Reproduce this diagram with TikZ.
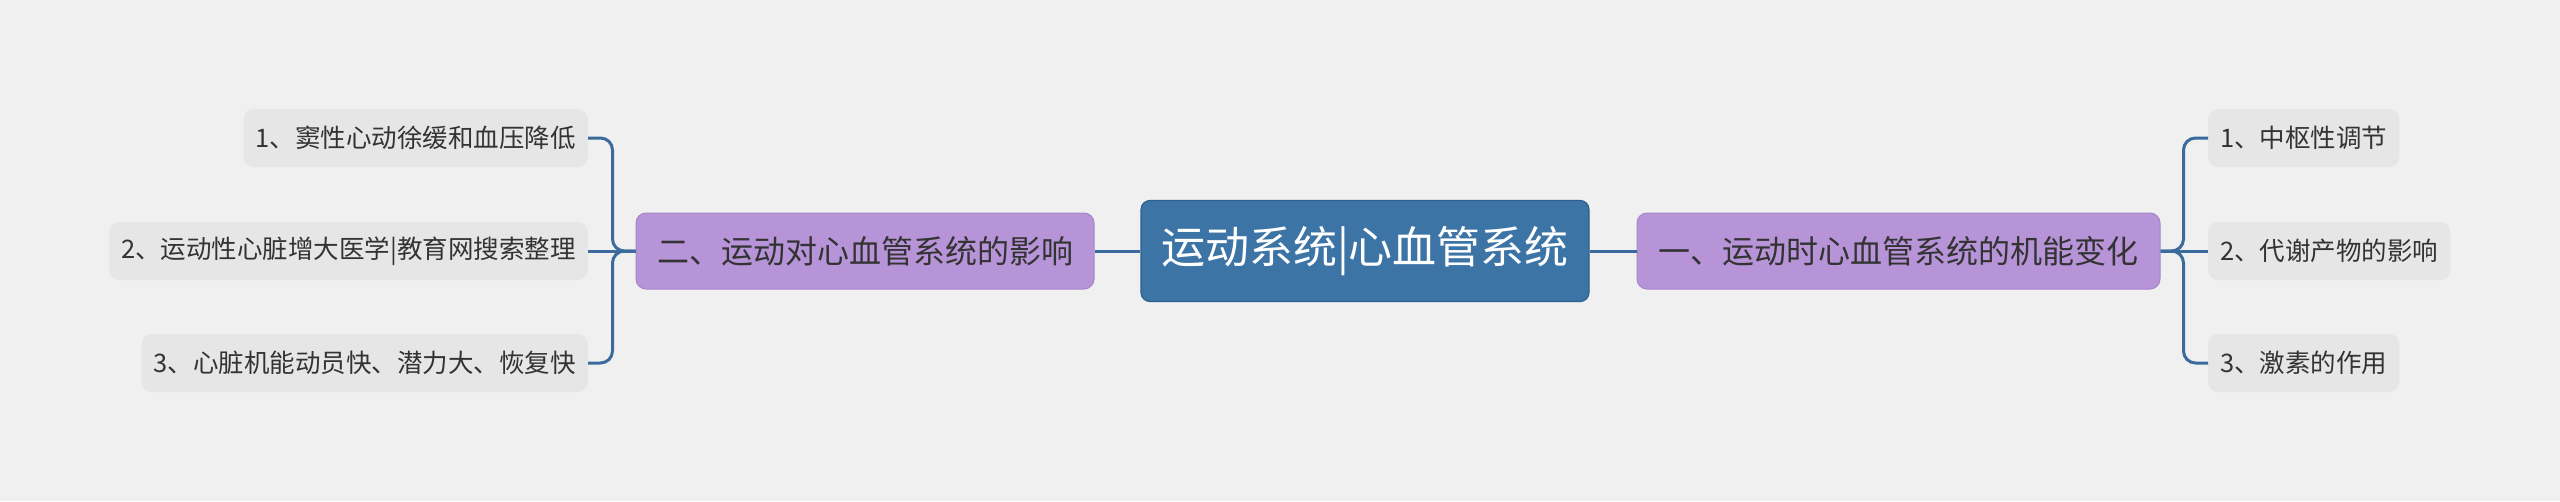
\documentclass[tikz,border=0pt]{standalone}
\usepackage{fontspec}
\setmainfont{Noto Sans CJK SC}
\definecolor{bgc}{HTML}{F0F0F0}
\definecolor{rootc}{HTML}{3D74A6}
\definecolor{rootb}{HTML}{2C5F8E}
\definecolor{mainc}{HTML}{B794D8}
\definecolor{mainb}{HTML}{A784CB}
\definecolor{leafc}{HTML}{E6E6E6}
\definecolor{txtc}{HTML}{333333}
\definecolor{linec}{HTML}{3A6B9C}
\tikzset{
  rootbox/.style={draw=rootb, line width=1.2pt, fill=rootc, rounded corners=9pt, text=white,
    minimum width=448pt, minimum height=101pt, inner sep=0pt, font=\fontsize{44}{52}\selectfont},
  mainbox/.style={draw=mainb, line width=1pt, fill=mainc, rounded corners=10pt, text=txtc,
    minimum height=76pt, inner sep=0pt, font=\fontsize{32}{38}\selectfont},
  leafbox/.style={fill=leafc, rounded corners=10pt, text=txtc,
    minimum height=58pt, inner xsep=12pt, inner ysep=0pt, font=\fontsize{25.5}{30}\selectfont},
  conn/.style={draw=linec, line width=3pt, rounded corners=12pt}
}
\begin{document}
\begin{tikzpicture}[x=1pt,y=-1pt]
\fill[bgc] (0,0) rectangle (2560,501);
\useasboundingbox (0,0) rectangle (2560,501);

\node[rootbox] (root) at (1365,251) {运动系统|心血管系统};
\node[mainbox, minimum width=458pt] (lmain) at (865,251) {二、运动对心血管系统的影响};
\node[mainbox, minimum width=523pt] (rmain) at (1898.5,251) {一、运动时心血管系统的机能变化};

\node[leafbox, anchor=east] (l1) at (588,138) {1、窦性心动徐缓和血压降低};
\node[leafbox, anchor=east] (l2) at (588,251) {2、运动性心脏增大医学|教育网搜索整理};
\node[leafbox, anchor=east] (l3) at (588,363) {3、心脏机能动员快、潜力大、恢复快};

\node[leafbox, anchor=west] (r1) at (2208,138) {1、中枢性调节};
\node[leafbox, anchor=west] (r2) at (2208,251) {2、代谢产物的影响};
\node[leafbox, anchor=west] (r3) at (2208,363) {3、激素的作用};

\coordinate (lj) at (612.5,251);
\coordinate (rj) at (2183.5,251);

\draw[conn] (root.west) -- (lmain.east);
\draw[conn] (root.east) -- (rmain.west);

\draw[conn] (lmain.west) -- (lj) |- (l1.east);
\draw[conn] (lmain.west) -- (l2.east);
\draw[conn] (lmain.west) -- (lj) |- (l3.east);

\draw[conn] (rmain.east) -- (rj) |- (r1.west);
\draw[conn] (rmain.east) -- (r2.west);
\draw[conn] (rmain.east) -- (rj) |- (r3.west);
\end{tikzpicture}
\end{document}
